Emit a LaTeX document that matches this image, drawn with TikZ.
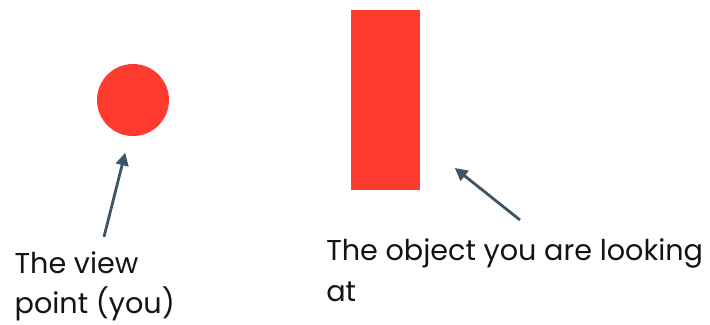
\documentclass[tikz,border=0pt]{standalone}
\usepackage{fontspec}
\setmainfont{Poppins}
\usepackage{tikz}
\usetikzlibrary{arrows.meta,positioning}
\definecolor{dotred}{RGB}{255,59,48}
\definecolor{slateblue}{RGB}{62,85,102}
\definecolor{inkblack}{RGB}{20,20,20}

\begin{document}
\begin{tikzpicture}[
  every node/.style={font=\fontsize{20.4}{28.8}\selectfont, text=inkblack},
  pointer/.style={draw=slateblue, line width=2pt,
                  -{Triangle[length=9pt,width=9pt]}},
  caption/.style={align=left, inner sep=0pt, anchor=north west}
]
\useasboundingbox (0,0) rectangle (17.75,-8.1);

% view point and object
\node[circle, fill=dotred, minimum size=1.8cm, inner sep=0pt] (viewer) at (3.325,-2.5) {};
\node[rectangle, fill=dotred, minimum width=1.725cm, minimum height=4.5cm,
      inner sep=0pt] (object) at (9.64,-2.5) {};

% captions
\node[caption] (lblviewer) at (0.36,-6.28) {The view\\point (you)};
\node[caption] (lblobject) at (8.15,-5.97) {The object you are looking\\at};

% arrow ends
\coordinate (viewtail) at (2.6,-5.92);
\coordinate (viewhead) at (3.13,-3.82);
\coordinate (objtail) at (13.0,-5.5);
\coordinate (objhead) at (11.37,-4.2);

\draw[pointer] (viewtail) -- (viewhead);
\draw[pointer] (objtail) -- (objhead);
\end{tikzpicture}
\end{document}
